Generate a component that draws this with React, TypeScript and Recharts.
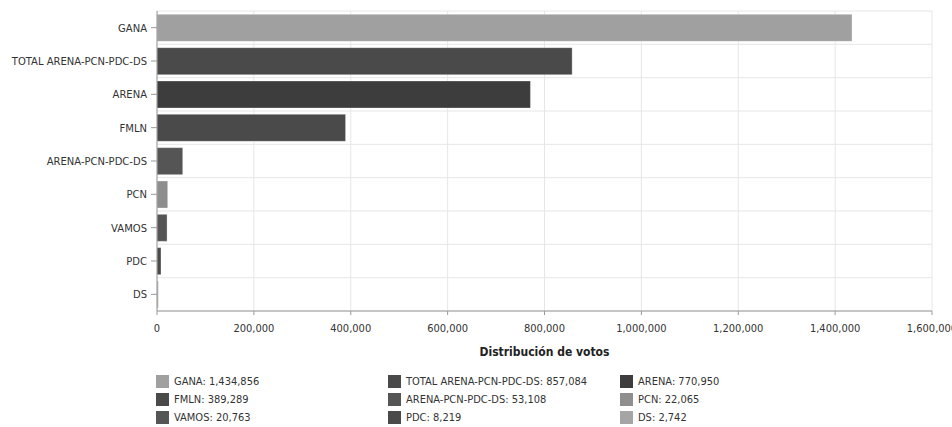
import { BarChart, Bar, XAxis, YAxis, CartesianGrid, Cell, Legend } from 'recharts';

const parties = ['GANA', 'TOTAL ARENA-PCN-PDC-DS', 'ARENA', 'FMLN', 'ARENA-PCN-PDC-DS', 'PCN', 'VAMOS', 'PDC', 'DS'];
const votes = [1434856, 857084, 770950, 389289, 53108, 22065, 20763, 8219, 2742];
const colors = ['#a0a0a0', '#4a4a4a', '#3d3d3d', '#4a4a4a', '#555555', '#8e8e8e', '#555555', '#4a4a4a', '#a5a5a5'];
const xTicks = [0, 200000, 400000, 600000, 800000, 1000000, 1200000, 1400000, 1600000];

const data = parties.map((name, i) => ({ name, value: votes[i] }));

const fmt = (v: number) => v.toLocaleString('en-US');

function VoteLegend() {
  return (
    <div
      style={{
        display: 'grid',
        gridTemplateColumns: '232px 232px 232px',
        rowGap: 5,
        paddingLeft: 156,
        paddingTop: 8,
        fontFamily: '"DejaVu Sans Condensed", "DejaVu Sans", sans-serif',
        fontSize: 11,
        color: '#333',
      }}
    >
      {parties.map((p, i) => (
        <div key={p} style={{ display: 'flex', alignItems: 'center', height: 13 }}>
          <span style={{ width: 13, height: 13, background: colors[i], marginRight: 5, display: 'inline-block' }} />
          <span>
            {p}: {fmt(votes[i])}
          </span>
        </div>
      ))}
    </div>
  );
}

function PartyTick({ x, y, payload }: any) {
  return (
    <text x={x} y={y} dy={4} textAnchor="end" fontSize={10} fill="#333" fontFamily='"DejaVu Sans", sans-serif'>
      {payload.value}
    </text>
  );
}

export default function App() {
  const n = parties.length;
  return (
    <div style={{ position: 'absolute', left: 0, top: 0, background: '#fff' }}>
      <BarChart
        width={952}
        height={427}
        data={data}
        layout="vertical"
        margin={{ top: 11, right: 20, left: 0, bottom: 0 }}
        barCategoryGap="10%"
      >
        <CartesianGrid
          stroke="#e6e6e6"
          horizontalCoordinatesGenerator={({ offset }: any) =>
            Array.from({ length: n + 1 }, (_, i) => offset.top + (i * offset.height) / n)
          }
        />
        <XAxis
          type="number"
          domain={[0, 1600000]}
          ticks={xTicks}
          tickFormatter={fmt}
          interval={0}
          height={56}
          stroke="#999"
          tickSize={4}
          tick={{ fontSize: 11, fill: '#333', fontFamily: '"DejaVu Sans Condensed", sans-serif' }}
          tickMargin={9}
          label={{
            value: 'Distribución de votos',
            position: 'insideBottom',
            offset: 11,
            style: { fontSize: 12, fontWeight: 'bold', fill: '#222', fontFamily: '"DejaVu Sans Condensed", sans-serif' },
          }}
        />
        <YAxis
          dataKey="name"
          type="category"
          width={157}
          interval={0}
          stroke="#999"
          tick={<PartyTick />}
          tickMargin={4}
        />
        <Legend verticalAlign="bottom" height={60} content={() => <VoteLegend />} />
        <Bar dataKey="value" isAnimationActive={false}>
          {data.map((d, i) => (
            <Cell key={d.name} fill={colors[i]} stroke="#ffffff" strokeOpacity={0.3} />
          ))}
        </Bar>
      </BarChart>
    </div>
  );
}
